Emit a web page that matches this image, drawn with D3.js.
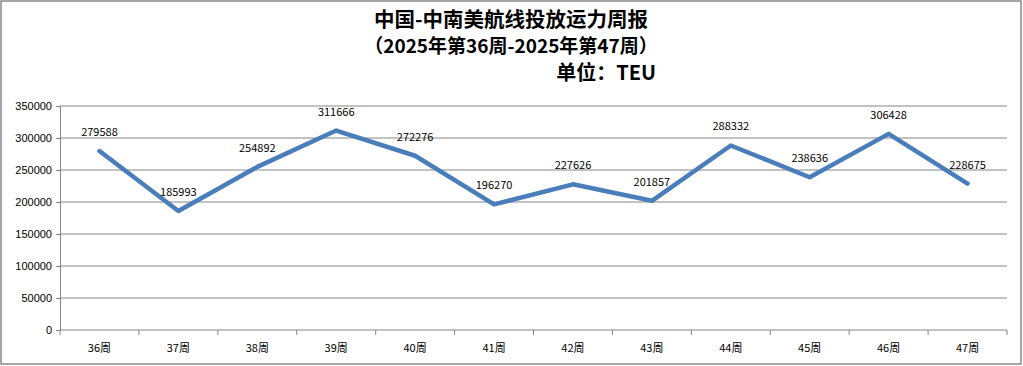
<!DOCTYPE html>
<html lang="zh">
<head>
<meta charset="UTF-8">
<title>中国-中南美航线投放运力周报</title>
<script src="https://d3js.org/d3.v7.min.js"></script>
<style>
  body { margin: 0; background: #fff; }
  svg { display: block; font-family: "Noto Sans CJK SC", "DejaVu Sans", sans-serif; }
</style>
</head>
<body>
<svg id="chart" width="1023" height="366"></svg>
<script>
// data
const weeks = ["36周", "37周", "38周", "39周", "40周", "41周", "42周", "43周", "44周", "45周", "46周", "47周"];
const teu = [279588, 185993, 254892, 311666, 272276, 196270, 227626, 201857, 288332, 238636, 306428, 228675];
const yTicks = [0, 50000, 100000, 150000, 200000, 250000, 300000, 350000];
const titleLines = ["中国-中南美航线投放运力周报", "（2025年第36周-2025年第47周）"];
const unitText = "单位：TEU";

const W = 1023, H = 366;
const margin = { left: 60, right: 16, top: 106, bottom: 36 };

const svg = d3.select("#chart");

// outer frame
svg.append("rect")
  .attr("x", 1).attr("y", 1)
  .attr("width", W - 3).attr("height", H - 3)
  .attr("fill", "#fff").attr("stroke", "#888").attr("stroke-width", 1.5);

const x = d3.scaleBand().domain(weeks).range([margin.left, W - margin.right]);
const y = d3.scaleLinear().domain([0, 350000]).range([H - margin.bottom, margin.top]);

// gridlines
svg.append("g")
  .selectAll("line")
  .data(yTicks.slice(1))
  .join("line")
    .attr("x1", margin.left).attr("x2", W - margin.right)
    .attr("y1", d => y(d)).attr("y2", d => y(d))
    .attr("stroke", "#868686").attr("stroke-width", 1);

// y axis
const yAxis = svg.append("g")
  .attr("transform", `translate(${margin.left},0)`)
  .call(d3.axisLeft(y).tickValues(yTicks).tickFormat(d3.format("d"))
    .tickSize(4).tickSizeOuter(0).tickPadding(4));
yAxis.selectAll("text").attr("font-size", 11).attr("fill", "#000");
yAxis.selectAll("line, path").attr("stroke", "#868686");

// x axis with ticks between categories
const xAxisG = svg.append("g").attr("transform", `translate(0,${y(0)})`);
xAxisG.append("line")
  .attr("x1", margin.left).attr("x2", W - margin.right)
  .attr("stroke", "#868686");
xAxisG.selectAll(".tk")
  .data(weeks.map(w => x(w)).concat([x.range()[1]]))
  .join("line")
    .attr("class", "tk")
    .attr("x1", d => d).attr("x2", d => d)
    .attr("y1", 0).attr("y2", 5)
    .attr("stroke", "#868686");
xAxisG.selectAll("text")
  .data(weeks)
  .join("text")
    .attr("x", d => x(d) + x.bandwidth() / 2)
    .attr("y", 22)
    .attr("text-anchor", "middle")
    .attr("font-size", 11)
    .attr("fill", "#000")
    .text(d => d);

// line
const cx = (d, i) => x(weeks[i]) + x.bandwidth() / 2;
svg.append("path")
  .datum(teu)
  .attr("d", d3.line().x(cx).y(d => y(d)))
  .attr("fill", "none")
  .attr("stroke", "#4A7EBB")
  .attr("stroke-width", 4.5)
  .attr("stroke-linejoin", "round")
  .attr("stroke-linecap", "round");

// data labels
svg.append("g")
  .selectAll("text")
  .data(teu)
  .join("text")
    .attr("x", cx)
    .attr("y", d => y(d) - 15)
    .attr("text-anchor", "middle")
    .attr("font-size", 11)
    .attr("fill", "#000")
    .text(d => d);

// titles
svg.append("g")
  .selectAll("text")
  .data(titleLines)
  .join("text")
    .attr("x", 511)
    .attr("y", (d, i) => 27 + i * 26)
    .attr("text-anchor", "middle")
    .attr("font-size", (d, i) => i === 0 ? 20.5 : 19)
    .attr("font-weight", "bold")
    .attr("fill", "#000")
    .text(d => d);

svg.append("text")
  .attr("x", 656).attr("y", 80)
  .attr("text-anchor", "end")
  .attr("font-size", 20)
  .attr("font-weight", "bold")
  .attr("fill", "#000")
  .text(unitText);
</script>
</body>
</html>
